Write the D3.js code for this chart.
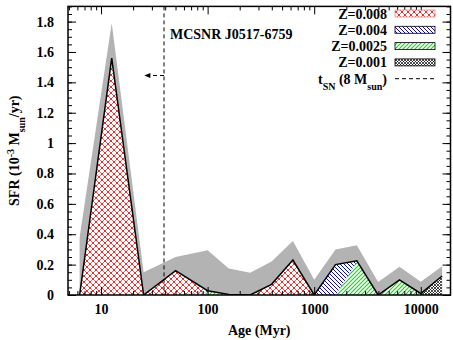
<!DOCTYPE html>
<html>
<head>
<meta charset="utf-8">
<script src="https://cdn.jsdelivr.net/npm/d3@7"></script>
<style>
  html, body { margin: 0; padding: 0; background: #fff; }
  svg { display: block; }
</style>
</head>
<body>
<svg id="chart" width="453" height="340"></svg>
<script>
// ---- data ----
const ages     = [6.3, 12.6, 25.1, 50.1, 100, 158, 251, 398, 631, 1000, 1585, 2512, 3981, 6310, 10000, 15849];
const sfrZ008  = [0, 1.56, 0, 0.16, 0.008, 0, 0, 0.07, 0.23, 0, 0, 0, 0, 0, 0, 0];
const sfrZ004  = [0, 0, 0, 0, 0, 0, 0, 0, 0, 0, 0.2, 0.005, 0, 0, 0, 0];
const sfrZ0025 = [0, 0, 0, 0, 0.02, 0.004, 0, 0, 0, 0, 0, 0.22, 0, 0.1, 0.01, 0];
const sfrZ001  = [0, 0, 0, 0, 0, 0, 0, 0, 0, 0, 0, 0, 0, 0, 0, 0.125];
const sfrUpper = [0.38, 1.79, 0.15, 0.25, 0.295, 0.175, 0.147, 0.22, 0.355, 0.1, 0.3, 0.328, 0.085, 0.186, 0.088, 0.19];
const xTickLabels = [10, 100, 1000, 10000];
const yTickLabels = [0, 0.2, 0.4, 0.6, 0.8, 1, 1.2, 1.4, 1.6, 1.8];
const seriesNames = ["Z=0.008", "Z=0.004", "Z=0.0025", "Z=0.001"];
const tSN = 39;            // Myr, SN progenitor lifetime (8 Msun)
const arrowTip = 25.5;     // Myr
const arrowLevel = 1.445;  // SFR level of the arrow
const snrName = "MCSNR J0517-6759";

const FONT = "'Liberation Serif', Tinos, 'Times New Roman', 'DejaVu Serif', 'Noto Serif', serif";

// ---- layout ----
const svg = d3.select("#chart");
const L = 68, R = 450.5, T = 6.4, B = 295;
const x = d3.scaleLog().domain([4.9, 19000]).range([L, R]);
const y = d3.scaleLinear().domain([0, 1.9]).range([B, T]);

// ---- patterns ----
const defs = svg.append("defs");
function pattern(id, size, paths, color, sw, dots, r) {
  const p = defs.append("pattern").attr("id", id).attr("patternUnits", "userSpaceOnUse")
    .attr("width", size).attr("height", size);
  p.append("rect").attr("width", size).attr("height", size).attr("fill", "#fff");
  p.append("path").attr("d", paths).attr("stroke", color).attr("stroke-width", sw).attr("fill", "none");
  if (dots) dots.forEach(d => p.append("circle").attr("cx", d[0]).attr("cy", d[1]).attr("r", r || 1).attr("fill", color));
}
pattern("pRed", 6, "M0,0L6,6M0,6L6,0", "#d81818", 0.65, [[3,3],[0,0],[6,0],[0,6],[6,6]], 0.9);
pattern("pBlue", 4, "M0,0L4,4M-1,3L1,5M3,-1L5,1", "#1010a0", 1.0);
pattern("pGreen", 4, "M0,4L4,0M-1,1L1,-1M3,5L5,3", "#20d020", 1.1);
pattern("pBlack", 3, "M0,0L3,3M0,3L3,0", "#000", 0.7);

defs.append("clipPath").attr("id", "clip").append("rect")
  .attr("x", L).attr("y", T).attr("width", R - L).attr("height", B - T);

// ---- table ----
const table = ages.map((a, i) => ({
  age: a, z008: sfrZ008[i], z004: sfrZ004[i], z0025: sfrZ0025[i], z001: sfrZ001[i], upper: sfrUpper[i]
}));
const keys = ["z001", "z0025", "z004", "z008"];
const fills = { z008: "url(#pRed)", z004: "url(#pBlue)", z0025: "url(#pGreen)", z001: "url(#pBlack)" };
const stack = d3.stack().keys(keys)(table);

const plot = svg.append("g").attr("clip-path", "url(#clip)");

// gray error envelope
plot.append("path").datum(table)
  .attr("d", d3.area().x(d => x(d.age)).y0(y(0)).y1(d => y(d.upper)))
  .attr("fill", "#b3b3b3");

// stacked metallicity areas
const area = d3.area().x(d => x(d.data.age)).y0(d => y(d[0])).y1(d => y(d[1]));
plot.selectAll("path.layer").data(stack).join("path")
  .attr("class", "layer")
  .attr("d", area)
  .attr("fill", d => fills[d.key]);

// total line
plot.append("path").datum(table)
  .attr("d", d3.line().x(d => x(d.age)).y(d => y(d.z008 + d.z004 + d.z0025 + d.z001)))
  .attr("fill", "none").attr("stroke", "#000").attr("stroke-width", 1.5).attr("stroke-linejoin", "miter");

// tSN dashed line
svg.append("line")
  .attr("x1", x(tSN)).attr("x2", x(tSN)).attr("y1", T).attr("y2", B)
  .attr("stroke", "#000").attr("stroke-width", 1).attr("stroke-dasharray", "4,3");

// arrow
svg.append("line")
  .attr("x1", x(tSN)).attr("x2", x(arrowTip) + 4).attr("y1", y(arrowLevel)).attr("y2", y(arrowLevel))
  .attr("stroke", "#000").attr("stroke-width", 1).attr("stroke-dasharray", "4,3");
svg.append("path")
  .attr("d", `M${x(arrowTip)},${y(arrowLevel)}l6,-2.5l0,5z`)
  .attr("fill", "#000");

// annotation
svg.append("text").attr("x", 170).attr("y", 38.5).attr("font-size", 14)
  .attr("font-family", FONT).attr("font-weight", "bold").text(snrName);

// ---- axes ----
const minorX = [];
for (let e = 0; e <= 4; e++) for (let m = 2; m <= 9; m++) {
  const v = m * Math.pow(10, e);
  if (v >= 4.9 && v <= 19000) minorX.push(v);
}
const minorY = d3.range(0, 1.9001, 0.05);

function styleAxis(g) {
  g.attr("font-family", FONT);
  g.select(".domain").remove();
  g.selectAll(".tick line").attr("stroke", "#000").attr("stroke-width", 1);
  g.selectAll(".tick text").attr("font-family", FONT).attr("font-size", 14).attr("font-weight", "bold").attr("fill", "#000");
}

svg.append("g").attr("transform", `translate(0,${B})`)
  .call(d3.axisBottom(x).tickValues(xTickLabels).tickSize(-8).tickPadding(9).tickFormat(d3.format("d")))
  .call(styleAxis);
svg.append("g").attr("transform", `translate(0,${B})`)
  .call(d3.axisBottom(x).tickValues(minorX).tickSize(-4).tickFormat(""))
  .call(styleAxis);
svg.append("g").attr("transform", `translate(0,${T})`)
  .call(d3.axisTop(x).tickValues(xTickLabels).tickSize(-8).tickFormat(""))
  .call(styleAxis);
svg.append("g").attr("transform", `translate(0,${T})`)
  .call(d3.axisTop(x).tickValues(minorX).tickSize(-4).tickFormat(""))
  .call(styleAxis);

svg.append("g").attr("transform", `translate(${L},0)`)
  .call(d3.axisLeft(y).tickValues(yTickLabels).tickSize(-8).tickPadding(14).tickFormat(d3.format("~g")))
  .call(styleAxis);
svg.append("g").attr("transform", `translate(${L},0)`)
  .call(d3.axisLeft(y).tickValues(minorY).tickSize(-4).tickFormat(""))
  .call(styleAxis);
svg.append("g").attr("transform", `translate(${R},0)`)
  .call(d3.axisRight(y).tickValues(yTickLabels).tickSize(-8).tickFormat(""))
  .call(styleAxis);
svg.append("g").attr("transform", `translate(${R},0)`)
  .call(d3.axisRight(y).tickValues(minorY).tickSize(-4).tickFormat(""))
  .call(styleAxis);

// frame
svg.append("rect").attr("x", L).attr("y", T).attr("width", R - L).attr("height", B - T)
  .attr("fill", "none").attr("stroke", "#000").attr("stroke-width", 1.5);

// axis titles
svg.append("text").attr("x", (L + R) / 2).attr("y", 335).attr("text-anchor", "middle")
  .attr("font-family", FONT).attr("font-size", 14).attr("font-weight", "bold").text("Age (Myr)");

const yl = svg.append("text").attr("transform", `translate(19,${(T + B) / 2}) rotate(-90)`)
  .attr("font-family", FONT).attr("text-anchor", "middle").attr("font-size", 14).attr("font-weight", "bold");
yl.append("tspan").text("SFR (10");
yl.append("tspan").attr("baseline-shift", "super").attr("font-size", 10).text("-3");
yl.append("tspan").text(" M");
yl.append("tspan").attr("baseline-shift", "sub").attr("font-size", 10).text("sun");
yl.append("tspan").text("/yr)");

// ---- legend ----
const legFills = ["url(#pRed)", "url(#pBlue)", "url(#pGreen)", "url(#pBlack)"];
const legStroke = ["#f08080", "#000", "#000", "#000"];
const rowY = i => 13.5 + i * 16.3;
seriesNames.forEach((name, i) => {
  svg.append("text").attr("x", 387).attr("y", rowY(i) + 5).attr("text-anchor", "end")
    .attr("font-family", FONT).attr("font-size", 14).attr("font-weight", "bold").text(name);
  svg.append("rect").attr("x", 395).attr("y", rowY(i) - 3.5).attr("width", 40).attr("height", 7)
    .attr("fill", legFills[i]).attr("stroke", legStroke[i]).attr("stroke-width", 0.8);
});
const lt = svg.append("text").attr("x", 387).attr("y", rowY(4) + 5).attr("text-anchor", "end")
  .attr("font-family", FONT).attr("font-size", 14).attr("font-weight", "bold");
lt.append("tspan").text("t");
lt.append("tspan").attr("baseline-shift", "sub").attr("font-size", 10).text("SN");
lt.append("tspan").text(" (8 M");
lt.append("tspan").attr("baseline-shift", "sub").attr("font-size", 10).text("sun");
lt.append("tspan").text(")");
svg.append("line").attr("x1", 395).attr("x2", 435).attr("y1", rowY(4)).attr("y2", rowY(4))
  .attr("stroke", "#000").attr("stroke-width", 1).attr("stroke-dasharray", "4,3");
</script>
</body>
</html>
